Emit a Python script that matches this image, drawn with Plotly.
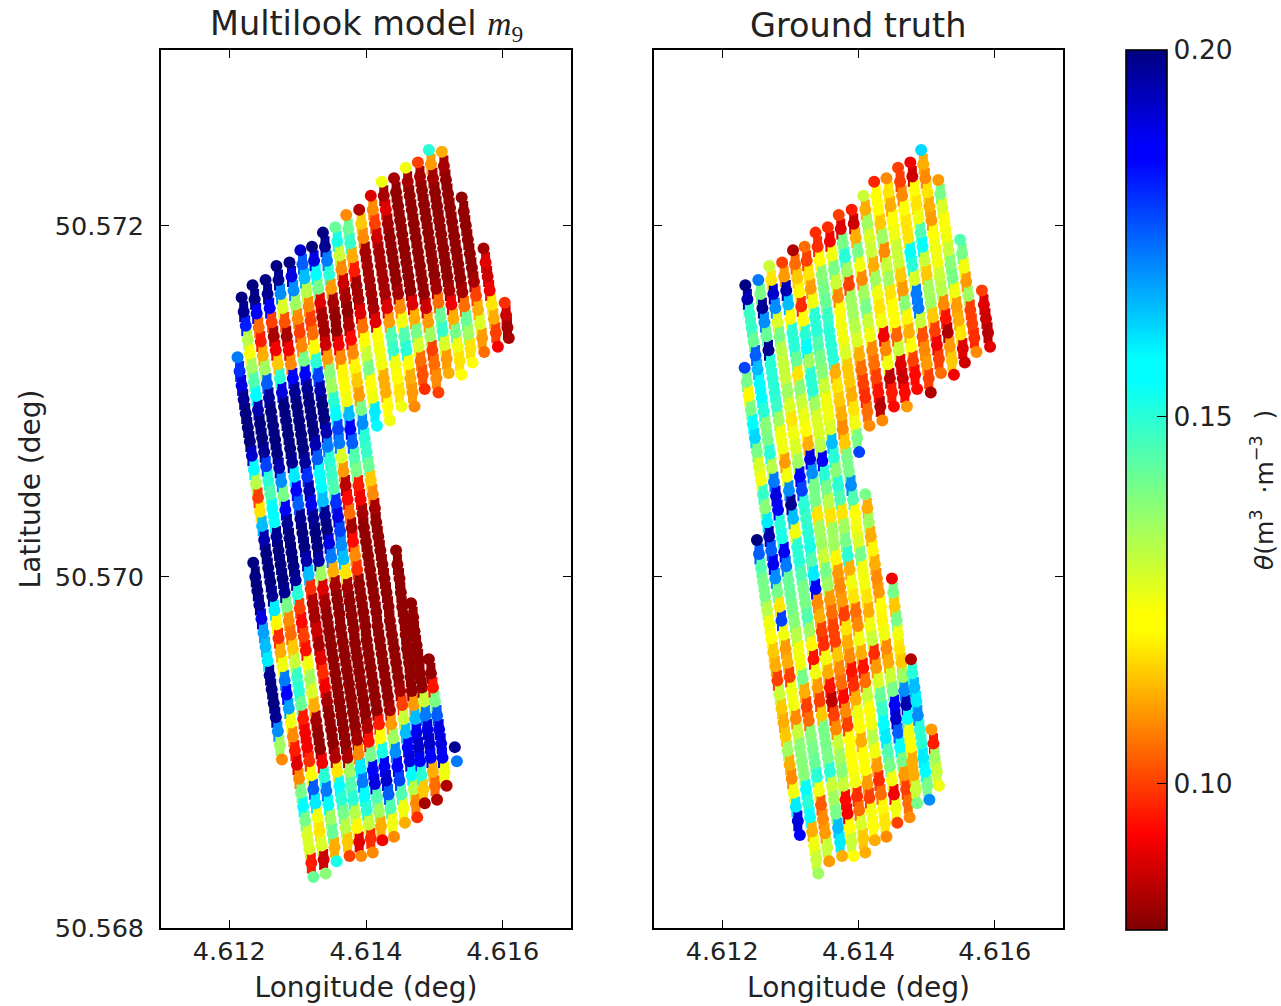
import plotly.graph_objects as go

# Longitude stored as 1e-5 deg above 4.61, latitude as 1e-5 deg above 50.56,
# soil moisture as 1e-3 m3/m3. Each track is read from the picture.
lon_t0 = [235,238,241,244,247,250,253,256,259,262,265,268,271,274,277]
lat_t0 = [1008,1000,992,984,976,968,960,952,944,936,928,920,912,904,896]
m9_t0 = [200,200,200,198,190,168,165,160,198,200,200,198,170,135,108]
gt_t0 = [None]*15

lon_t1 = [212,215,218,221,224,227,230,233,236,239,242,245,248,251,254,257,260,263,266,269,272,275,278,281,284,287,290,293,296,299,302,305,308,311,314,317,320,323]
lat_t1 = [1125,1117,1109,1101,1093,1085,1077,1069,1061,1053,1045,1037,1029,1021,1013,1005,997,989,981,973,965,957,949,941,933,925,917,909,901,893,885,877,869,861,853,845,837,829]
m9_t1 = [172,180,190,198,200,200,200,192,158,132,100,118,165,195,200,200,200,198,160,120,98,112,125,172,185,168,125,108,96,90,108,140,155,140,128,128,96,142]
gt_t1 = [None]*13 + [200,175,145,140,140,132,125,122,115,112,100,130,115,112,115,135,112,108,125,160,190,185] + [None]*3

lon_t2 = [218,221,224,227,230,233,236,239,242,245,248,251,254,257,260,263,266,269,272,275,278,281,284,287,290,293,296,299,302,305,308,311,314,317,320,323,326,329,332,335,338,341]
lat_t2 = [1159,1151,1143,1135,1127,1119,1111,1103,1095,1087,1079,1071,1063,1055,1047,1039,1031,1023,1015,1007,999,991,983,975,967,959,951,943,935,927,919,911,903,895,887,879,871,863,855,847,839,831]
m9_t2 = [200,198,182,132,124,135,145,155,195,200,200,198,178,150,145,155,158,198,200,200,200,198,140,108,105,115,130,148,150,142,96,92,92,98,122,175,160,125,118,128,88,138]
gt_t2 = [None]*5 + [178,140,120,140,155,162,140,128,125,148,138,160,195,175,188,170,140,118,178,125,110,112,100,125,125,108,130,138,138,138,155,150,158,112,125,130,135]

lon_t3 = [234,237,240,243,246,249,252,255,258,261,264,267,270,273,276,279,282,285,288,291,294,297,300,303,306,309,312,315,318,321,324,327,330,333,336,339,342,345,348,351,354,357]
lat_t3 = [1166,1158,1150,1142,1134,1126,1118,1110,1102,1094,1086,1078,1070,1062,1054,1046,1038,1030,1022,1014,1006,998,990,982,974,966,958,950,942,934,926,918,910,902,894,886,878,870,862,854,846,838]
m9_t3 = [200,200,185,105,96,112,135,175,197,200,200,200,200,195,170,140,185,198,200,200,200,198,150,100,94,100,95,125,135,128,112,84,82,82,92,150,172,155,135,142,112,152]
gt_t3 = [200,195,148,148,142,175,165,158,155,150,138,140,150,132,172,190,185,150,152,188,172,142,142,140,138,132,125,125,140,112,100,105,138,140,142,150,125,103,108,110,130,110]

lon_t4 = [253,256,259,262,265,268,271,274,277,280,283,286,289,292,295,298,301,304,307,310,313,316,319,322,325,328,331,334,337,340,343,346,349,352,355,358,361,364,367,370,373,376]
lat_t4 = [1169,1161,1153,1145,1137,1129,1121,1113,1105,1097,1089,1081,1073,1065,1057,1049,1041,1033,1025,1017,1009,1001,993,985,977,969,961,953,945,937,929,921,913,905,897,889,881,873,865,857,849,841]
m9_t4 = [200,198,185,100,84,92,115,150,190,200,200,200,200,198,160,185,175,198,200,200,195,165,98,85,84,88,84,90,98,92,84,82,82,82,85,118,158,150,140,132,115,100]
gt_t4 = [172,140,198,170,142,198,150,150,150,148,135,125,125,110,125,170,198,165,125,150,150,145,140,140,145,135,120,95,125,110,100,115,140,140,140,150,130,135,140,165,160,112]

lon_t5 = [269,272,275,278,281,284,287,290,293,296,299,302,305,308,311,314,317,320,323,326,329,331,334,337,340,343,346,349,352,355,358,361,364,367,370,373,376,378,381,384,387,390,393]
lat_t5 = [1177,1169,1161,1153,1145,1137,1129,1121,1113,1105,1097,1089,1081,1073,1065,1057,1049,1041,1033,1025,1017,1009,1001,993,985,977,969,961,953,945,937,929,921,913,905,897,889,881,873,865,857,849,841]
m9_t5 = [200,198,170,128,102,84,92,108,185,198,200,200,200,200,197,180,195,188,198,200,200,196,135,90,84,82,82,82,82,82,82,82,82,82,82,85,135,145,150,132,120,90,108]
gt_t5 = [130,118,192,170,128,140,132,130,130,135,128,118,125,128,135,185,178,150,148,150,152,145,160,185,108,112,100,98,125,112,95,86,100,108,130,135,138,130,94,92,122,130,122]

lon_t6 = [288,291,294,297,300,303,306,309,311,314,317,320,323,326,329,332,335,337,340,343,346,349,352,355,358,361,363,366,369,372,375,378,381,384,387,389,392,395,398,401,404,407,410]
lat_t6 = [1179,1171,1163,1155,1147,1139,1131,1123,1115,1107,1099,1091,1083,1075,1067,1059,1051,1043,1035,1027,1019,1011,1003,995,987,979,971,963,955,947,939,931,923,915,907,899,891,883,875,867,859,851,843]
m9_t6 = [200,190,170,135,108,100,108,140,185,198,200,200,200,195,175,155,158,165,198,200,190,172,112,84,82,82,82,82,82,82,82,82,82,82,84,108,160,172,155,150,130,98,108]
gt_t6 = [100,110,195,165,122,150,150,142,118,138,130,126,122,112,190,170,140,140,118,135,135,130,140,135,110,105,100,100,115,108,105,94,108,100,122,122,122,125,98,105,128,115,112]

lon_t7 = [304,307,310,313,316,319,322,324,327,330,333,336,339,342,344,347,350,353,356,359,362,364,367,370,373,376,379,382,384,387,390,393,396,399,402,404,407,410,413,416,419,422,424]
lat_t7 = [1186,1178,1170,1162,1154,1146,1138,1130,1122,1114,1106,1098,1090,1082,1074,1066,1058,1050,1042,1034,1026,1018,1010,1002,994,986,978,970,962,954,946,938,930,922,914,906,898,890,882,874,866,858,850]
m9_t7 = [192,175,165,132,108,100,105,122,150,178,195,200,200,195,172,150,148,145,180,190,178,170,165,118,84,82,82,82,82,82,82,82,82,82,85,95,140,185,190,145,135,112,92]
gt_t7 = [85,105,115,120,98,122,150,155,135,150,150,135,128,128,132,185,150,140,132,118,135,135,120,110,108,110,100,118,112,108,95,98,112,125,122,112,122,122,110,100,125,122,112]

lon_t8 = [321,324,327,330,333,336,339,341,344,347,350,353,356,359,361,364,367,370,373,376,379,381,384,387,390,393,396,399,401,404,407,410,413,416,419,421,424,427,430,433,436,439,441]
lat_t8 = [1188,1180,1172,1164,1156,1148,1140,1132,1124,1116,1108,1100,1092,1084,1076,1068,1060,1052,1044,1036,1028,1020,1012,1004,996,988,980,972,964,956,948,940,932,924,916,908,900,892,884,876,868,860,852]
m9_t8 = [200,190,158,140,90,84,84,88,110,138,135,150,155,178,172,128,110,86,94,105,84,94,108,98,82,82,82,82,82,82,82,82,82,82,96,122,152,188,192,175,145,125,108]
gt_t8 = [105,100,118,110,125,150,150,145,140,138,130,125,125,128,165,150,138,150,145,118,135,140,150,112,125,118,105,108,125,112,95,105,130,122,125,132,125,110,98,105,120,118,108]

lon_t9 = [337,340,343,346,349,352,355,357,360,363,366,369,372,375,377,380,383,386,389,392,395,397,400,403,406,409,412,415,417,420,423,426,429,432,435,437,440,443,446,449,452,455,457]
lat_t9 = [1196,1188,1180,1172,1164,1156,1148,1140,1132,1124,1116,1108,1100,1092,1084,1076,1068,1060,1052,1044,1036,1028,1020,1012,1004,996,988,980,972,964,956,948,940,932,924,916,908,900,892,884,876,868,860]
m9_t9 = [200,198,172,150,110,84,82,82,92,108,120,122,125,165,185,175,145,140,96,92,84,82,82,82,82,82,82,82,82,82,82,82,82,82,84,110,135,170,185,178,145,125,112]
gt_t9 = [98,98,122,138,140,142,148,150,150,150,112,118,115,112,108,115,140,140,170,145,122,125,128,140,125,125,118,112,125,130,98,110,128,142,148,155,160,145,140,125,92,125,100]

lon_t10 = [355,358,361,364,367,370,373,375,378,381,384,387,390,393,395,398,401,404,407,410,413,415,418,421,424,427,430,433,435,438,441,444,447,450,453,455,458,461,464,467,470,473,475]
lat_t10 = [1199,1191,1183,1175,1167,1159,1151,1143,1135,1127,1119,1111,1103,1095,1087,1079,1071,1063,1055,1047,1039,1031,1023,1015,1007,999,991,983,975,967,959,951,943,935,927,919,911,903,895,887,879,871,863]
m9_t10 = [142,152,130,108,88,84,82,85,94,108,120,115,110,140,170,150,148,142,115,108,84,82,82,82,82,82,82,82,82,82,82,82,82,84,100,130,165,185,190,158,132,108,98]
gt_t10 = [98,92,125,140,130,108,122,125,125,128,115,115,112,118,125,140,178,None,None,140,112,135,112,120,112,108,110,122,120,125,108,112,130,140,185,192,175,155,140,110,100,105,108]

lon_t11a = [371,374,377,380,383,386,389,392,395,398,401,404,407,410,413,416]
lat_t11a = [1206,1198,1190,1182,1174,1166,1158,1150,1142,1134,1126,1118,1110,1102,1094,1086]
m9_t11a = [108,142,148,112,96,84,84,90,105,122,130,140,122,125,160,158]
gt_t11a = [100,90,140,150,135,100,135,135,132,128,112,105,100,98,105,108]

lon_t11b = [444,446,449,451,453,456,458,460,463,465,467,470,472,474,477,479,481,484,486]
lat_t11b = [1015,1007,999,991,983,975,967,959,951,943,935,927,919,911,903,895,887,879,871]
m9_t11b = [82,82,82,82,82,82,82,82,82,82,82,110,165,188,192,185,150,115,84]
gt_t11b = [None,None,92,140,115,140,125,118,115,135,170,195,158,125,122,112,112,130,140]

lon_t12a = [390,393,396,399,402,405,408,411,414,417,420,423,426,429,432,435]
lat_t12a = [1209,1201,1193,1185,1177,1169,1161,1153,1145,1137,1129,1121,1113,1105,1097,1089]
m9_t12a = [85,115,108,84,84,84,84,84,90,122,125,125,112,112,122,125]
gt_t12a = [96,88,112,140,125,108,135,140,130,125,108,105,100,95,86,108]

lon_t12b = [466,469,471,474,477,479,482,485,487,490,493,495,498,501,504]
lat_t12b = [985,977,969,961,953,945,937,929,921,913,905,897,889,881,873]
m9_t12b = [82,82,82,82,82,82,82,130,172,190,192,185,112,105,85]
gt_t12b = [None,None,None,None,85,150,165,160,170,150,150,160,155,140,170]

lon_t13a = [407,410,413,416,419,422,425,428,431,434,437,440,443,446,449,452]
lat_t13a = [1217,1209,1201,1193,1185,1177,1169,1161,1153,1145,1137,1129,1121,1113,1105,1097]
m9_t13a = [90,108,100,88,84,84,84,84,90,110,145,148,125,122,118,125]
gt_t13a = [130,112,135,128,130,112,135,125,118,125,92,108,125,86,96,94]

lon_t13b = [492,495,498,501,504,507,510,512,515,518]
lat_t13b = [953,945,937,929,921,913,905,897,889,881]
m9_t13b = [82,82,95,140,175,190,190,188,125,85]
gt_t13b = [None,None,None,None,None,110,96,135,130,125]

lon_t14a = [423,426,429,432,435,438,441,444,447,450,453,456,459,462,465,468,471]
lat_t14a = [1225,1217,1209,1201,1193,1185,1177,1169,1161,1153,1145,1137,1129,1121,1113,1105,1097]
m9_t14a = [125,84,90,84,82,82,82,82,84,108,125,145,150,122,112,110,108]
gt_t14a = [97,122,122,115,135,108,130,135,118,122,122,104,130,90,88,94,110]

lon_t14b = [530,533]
lat_t14b = [903,895]
m9_t14b = [198,172]
gt_t14b = [None,None]

lon_t15 = [441,444,447,450,453,456,459,462,465,468,471,474,477,480,483,486]
lat_t15 = [1227,1219,1211,1203,1195,1187,1179,1171,1163,1155,1147,1139,1131,1123,1115,1107]
m9_t15 = [84,82,82,82,82,82,82,82,82,90,112,140,128,105,102,98]
gt_t15 = [108,118,112,122,125,130,130,115,110,138,120,112,122,100,94,94]

lon_t16 = [458,461,464,467,470,473,476,479,482,485,488,491,494,497,500,503,506]
lat_t16 = [1233,1225,1217,1209,1201,1193,1185,1177,1169,1161,1153,1145,1137,1129,1121,1113,1105]
m9_t16 = [125,84,82,82,82,82,82,82,82,82,88,110,135,100,105,108,100]
gt_t16 = [100,100,108,122,118,118,155,150,128,172,172,130,102,108,110,100,85]

lon_t17 = [476,479,482,485,488,491,494,497,500,503,506,509,512,515,518,521]
lat_t17 = [1236,1228,1220,1212,1204,1196,1188,1180,1172,1164,1156,1148,1140,1132,1124,1116]
m9_t17 = [100,84,82,82,82,82,82,82,82,84,105,142,148,128,110,112]
gt_t17 = [92,88,122,118,125,145,158,130,115,135,135,115,100,92,100,105]

lon_t18 = [492,495,498,501,504,507,510,513,516,519,522,525,528,531,534,537,540]
lat_t18 = [1243,1235,1227,1219,1211,1203,1195,1187,1179,1171,1163,1155,1147,1139,1131,1123,1115]
m9_t18 = [150,110,84,82,82,82,82,82,82,82,84,92,112,140,125,118,122]
gt_t18 = [162,112,108,118,112,110,122,125,125,130,132,108,95,85,110,115,92]

lon_t19 = [511,514,517,520,523,526,529,532,535,538,541,544,547,550,553,556]
lat_t19 = [1242,1234,1226,1218,1210,1202,1194,1186,1178,1170,1162,1154,1146,1138,1130,1122]
m9_t19 = [112,84,82,82,82,82,82,82,82,82,84,105,142,135,118,122]
gt_t19 = [None,None,110,140,128,122,125,130,138,140,125,110,112,118,90,88]

lon_t20 = [540,543,546,549,552,555,558,561,564,567,570,573]
lat_t20 = [1216,1208,1200,1192,1184,1176,1168,1160,1152,1144,1136,1128]
m9_t20 = [82,82,82,82,82,82,84,100,112,128,110,105]
gt_t20 = [None,None,None,145,140,125,110,135,100,100,98,108]

lon_t21 = [572,575,578,581,584,587,590,593]
lat_t21 = [1187,1179,1171,1163,1155,1147,1139,1131]
m9_t21 = [84,90,88,92,118,112,100,92]
gt_t21 = [None,None,None,100,90,88,86,90]

lon_t22 = [603,605,607,609]
lat_t22 = [1156,1149,1142,1136]
m9_t22 = [98,88,84,84]
gt_t22 = [None,None,None,None]

track_lon = [lon_t0,lon_t1,lon_t2,lon_t3,lon_t4,lon_t5,lon_t6,lon_t7,lon_t8,lon_t9,lon_t10,lon_t11a,lon_t11b,lon_t12a,lon_t12b,lon_t13a,lon_t13b,lon_t14a,lon_t14b,lon_t15,lon_t16,lon_t17,lon_t18,lon_t19,lon_t20,lon_t21,lon_t22]
track_lat = [lat_t0,lat_t1,lat_t2,lat_t3,lat_t4,lat_t5,lat_t6,lat_t7,lat_t8,lat_t9,lat_t10,lat_t11a,lat_t11b,lat_t12a,lat_t12b,lat_t13a,lat_t13b,lat_t14a,lat_t14b,lat_t15,lat_t16,lat_t17,lat_t18,lat_t19,lat_t20,lat_t21,lat_t22]
track_m9 = [m9_t0,m9_t1,m9_t2,m9_t3,m9_t4,m9_t5,m9_t6,m9_t7,m9_t8,m9_t9,m9_t10,m9_t11a,m9_t11b,m9_t12a,m9_t12b,m9_t13a,m9_t13b,m9_t14a,m9_t14b,m9_t15,m9_t16,m9_t17,m9_t18,m9_t19,m9_t20,m9_t21,m9_t22]
track_gt = [gt_t0,gt_t1,gt_t2,gt_t3,gt_t4,gt_t5,gt_t6,gt_t7,gt_t8,gt_t9,gt_t10,gt_t11a,gt_t11b,gt_t12a,gt_t12b,gt_t13a,gt_t13b,gt_t14a,gt_t14b,gt_t15,gt_t16,gt_t17,gt_t18,gt_t19,gt_t20,gt_t21,gt_t22]

x_ticks = [4.612, 4.614, 4.616]
y_ticks = [50.568, 50.570, 50.572]
cbar_ticks = [0.10, 0.15, 0.20]

for a, b, c, d in zip(track_lon, track_lat, track_m9, track_gt):
    assert len(a) == len(b) == len(c) == len(d), (a[0], len(a), len(b), len(c), len(d))


def panel_arrays(values_by_track):
    """Point arrays for one panel; the second set holds points with a neighbour on both sides."""
    xs, ys, vs, ix, iy, iv = [], [], [], [], [], []
    for lo, la, vals in zip(track_lon, track_lat, values_by_track):
        for i, (a, b, c) in enumerate(zip(lo, la, vals)):
            if c is None:
                continue
            x, y, v = 4.61 + a * 1e-5, 50.56 + b * 1e-5, c / 1000
            xs.append(x); ys.append(y); vs.append(v)
            before = i > 0 and vals[i - 1] is not None
            after = i < len(vals) - 1 and vals[i + 1] is not None
            if before and after:
                ix.append(x); iy.append(y); iv.append(v)
    return xs, ys, vs, ix, iy, iv


jet_r = [
    [0.00, "rgb(128,0,0)"], [0.09, "rgb(232,0,0)"], [0.11, "rgb(255,0,0)"],
    [0.34, "rgb(255,255,0)"], [0.36, "rgb(255,255,0)"], [0.625, "rgb(0,255,255)"],
    [0.65, "rgb(0,255,255)"], [0.875, "rgb(0,0,255)"], [0.89, "rgb(0,0,255)"],
    [1.00, "rgb(0,0,128)"],
]

W, H = 1281, 1006
INK = "#222222"
FONT = "DejaVu Sans"
fig = go.Figure()
dot = 12
for vals, xa, ya in ((track_m9, "x", "y"), (track_gt, "x2", "y2")):
    xs, ys, vs, ix, iy, iv = panel_arrays(vals)
    # Solid along-track stroke under the dots, so each track reads as a continuous band.
    fig.add_trace(go.Scatter(x=ix, y=iy, mode="markers", xaxis=xa, yaxis=ya, showlegend=False, hoverinfo="skip",
                             marker=dict(symbol="line-ns-open", size=15, color=iv, coloraxis="coloraxis",
                                         line=dict(width=9))))
    fig.add_trace(go.Scatter(x=xs, y=ys, mode="markers", xaxis=xa, yaxis=ya, showlegend=False,
                             marker=dict(size=dot, color=vs, coloraxis="coloraxis", line=dict(width=0))))

axis_common = dict(showgrid=False, zeroline=False, showline=True, linecolor="black", linewidth=1.6,
                   mirror="ticks", ticks="inside", ticklen=8, tickwidth=1, tickcolor="black",
                   automargin=False, tickfont=dict(family=FONT, size=25.5, color=INK))
fig.update_layout(
    width=W, height=H, margin=dict(l=0, r=0, t=0, b=0),
    paper_bgcolor="white", plot_bgcolor="white",
    font=dict(family=FONT, color=INK),
    xaxis=dict(domain=[161/W, 571/W], range=[4.611, 4.617], tickvals=x_ticks, tickformat=".3f",
               title=dict(text="Longitude (deg)", font=dict(size=28), standoff=12), **axis_common),
    yaxis=dict(domain=[1-928/H, 1-50/H], range=[50.568, 50.573], tickvals=y_ticks, tickformat=".3f",
               ticklabelstandoff=10,
               title=dict(text="Latitude (deg)", font=dict(size=28), standoff=6), **axis_common),
    xaxis2=dict(domain=[654/W, 1063/W], range=[4.611, 4.617], tickvals=x_ticks, tickformat=".3f",
                anchor="y2", title=dict(text="Longitude (deg)", font=dict(size=28), standoff=12), **axis_common),
    yaxis2=dict(domain=[1-928/H, 1-50/H], range=[50.568, 50.573], tickvals=y_ticks, showticklabels=False,
                anchor="x2", **axis_common),
    coloraxis=dict(
        cmin=0.08, cmax=0.20, colorscale=jet_r,
        colorbar=dict(x=1126/W, xanchor="left", xpad=0, thickness=41, thicknessmode="pixels",
                      lenmode="fraction", len=880/H, y=1-50/H, yanchor="top", ypad=0,
                      outlinewidth=1.6, outlinecolor="black",
                      tickvals=cbar_ticks, ticktext=["0.10", "0.15", "0.20"], ticks="inside",
                      ticklen=10, tickcolor="black", tickwidth=1,
                      tickfont=dict(family=FONT, size=26.5, color=INK)),
    ),
    annotations=[
        dict(text='Multilook model <span style="font-family:Liberation Serif"><i>m</i><sub>9</sub></span>',
             x=366/W, y=1-25/H, xref="paper", yref="paper", xanchor="center", yanchor="middle",
             showarrow=False, font=dict(size=33.5, color=INK)),
        dict(text="Ground truth", x=858/W, y=1-25/H, xref="paper", yref="paper", xanchor="center", yanchor="middle",
             showarrow=False, font=dict(size=33.5, color=INK)),
        dict(text='<i>θ</i>(m<sup>3</sup>  ·m<sup>−3</sup>  )', x=1262/W, y=1-490/H, xref="paper", yref="paper",
             xanchor="center", yanchor="middle", showarrow=False, textangle=-90, font=dict(size=25, color=INK)),
    ],
)
fig.write_html("out.html", config={"displayModeBar": False},
               post_script="document.body.style.margin='0';document.body.style.overflow='hidden';")
